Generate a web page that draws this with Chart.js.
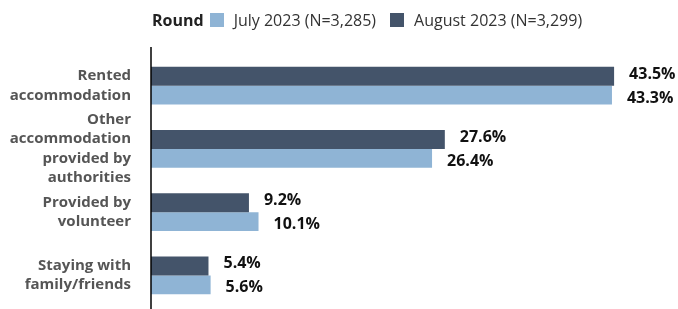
<!DOCTYPE html>
<html lang="en">
<head>
<meta charset="UTF-8">
<title>Accommodation by round</title>
<script src="https://cdn.jsdelivr.net/npm/chart.js"></script>
<style>
    html, body { margin: 0; padding: 0; background: #fff; }
    .wrap { position: relative; width: 678px; height: 309px; }
    .legenda {
        position: absolute; top: 9px; left: 152px;
        font-family: "Open Sans", "Noto Sans", sans-serif; font-size: 16px; color: #333;
        display: flex; align-items: center; white-space: nowrap;
    }
    .legenda b { color: #222; margin-right: 6px; }
    .legenda .caixa { width: 14px; height: 14px; display: inline-block; margin-right: 10px; }
    .legenda .item { display: flex; align-items: center; margin-right: 14px; }
    canvas { display: block; }
</style>
</head>
<body>
<div class="wrap">
    <div class="legenda">
        <b>Round</b>
        <span class="item"><span class="caixa" style="background:#8FB4D5"></span>July 2023 (N=3,285)</span>
        <span class="item"><span class="caixa" style="background:#44546A"></span>August 2023 (N=3,299)</span>
    </div>
    <canvas id="grafico" width="678" height="309"></canvas>
</div>

<script>
    const categorias = [
        ['Rented', 'accommodation'],
        ['Other', 'accommodation', 'provided by', 'authorities'],
        ['Provided by', 'volunteer'],
        ['Staying with', 'family/friends']
    ];
    const agosto = [43.5, 27.6, 9.2, 5.4];
    const julho = [43.3, 26.4, 10.1, 5.6];

    const corAgosto = '#44546A';
    const corJulho = '#8FB4D5';

    // rotulos de valor no fim de cada barra
    const rotulos = {
        id: 'rotulos',
        afterDatasetsDraw(chart) {
            const ctx = chart.ctx;
            ctx.save();
            ctx.font = 'bold 16px "Open Sans", "Noto Sans", sans-serif';
            ctx.fillStyle = '#111';
            ctx.textBaseline = 'middle';
            chart.data.datasets.forEach((ds, i) => {
                const meta = chart.getDatasetMeta(i);
                meta.data.forEach((bar, j) => {
                    const desl = i === 0 ? -2 : 3;
                    ctx.fillText(ds.data[j].toFixed(1) + '%', bar.x + 15, bar.y + desl);
                });
            });
            ctx.restore();
        }
    };

    // linha do eixo y, um pouco mais longa que a area do grafico
    const eixo = {
        id: 'eixo',
        afterDraw(chart) {
            const ctx = chart.ctx;
            const x = chart.chartArea.left;
            ctx.save();
            ctx.strokeStyle = '#000';
            ctx.lineWidth = 1.5;
            ctx.beginPath();
            ctx.moveTo(x, 47);
            ctx.lineTo(x, 309);
            ctx.stroke();
            ctx.restore();
        }
    };

    new Chart(document.getElementById('grafico'), {
        type: 'bar',
        data: {
            labels: categorias,
            datasets: [
                { label: 'August 2023 (N=3,299)', data: agosto, backgroundColor: corAgosto },
                { label: 'July 2023 (N=3,285)', data: julho, backgroundColor: corJulho }
            ]
        },
        options: {
            indexAxis: 'y',
            responsive: false,
            animation: false,
            layout: { padding: { top: 54, bottom: 2, left: 0, right: 16 } },
            datasets: { bar: { categoryPercentage: 0.6, barPercentage: 1 } },
            plugins: {
                legend: { display: false },
                tooltip: { enabled: false }
            },
            scales: {
                x: { display: false, min: 0, max: 48 },
                y: {
                    afterFit(scale) {
                        scale.width = 151;
                        scale.paddingTop = 0;
                        scale.paddingBottom = 0;
                    },
                    grid: { display: false, drawTicks: false },
                    border: { display: false },
                    ticks: {
                        autoSkip: false,
                        padding: 20,
                        color: '#555',
                        font: { family: '"Open Sans", "Noto Sans", sans-serif', size: 15, weight: 'bold', lineHeight: 1.3 }
                    }
                }
            }
        },
        plugins: [rotulos, eixo]
    });
</script>
</body>
</html>
